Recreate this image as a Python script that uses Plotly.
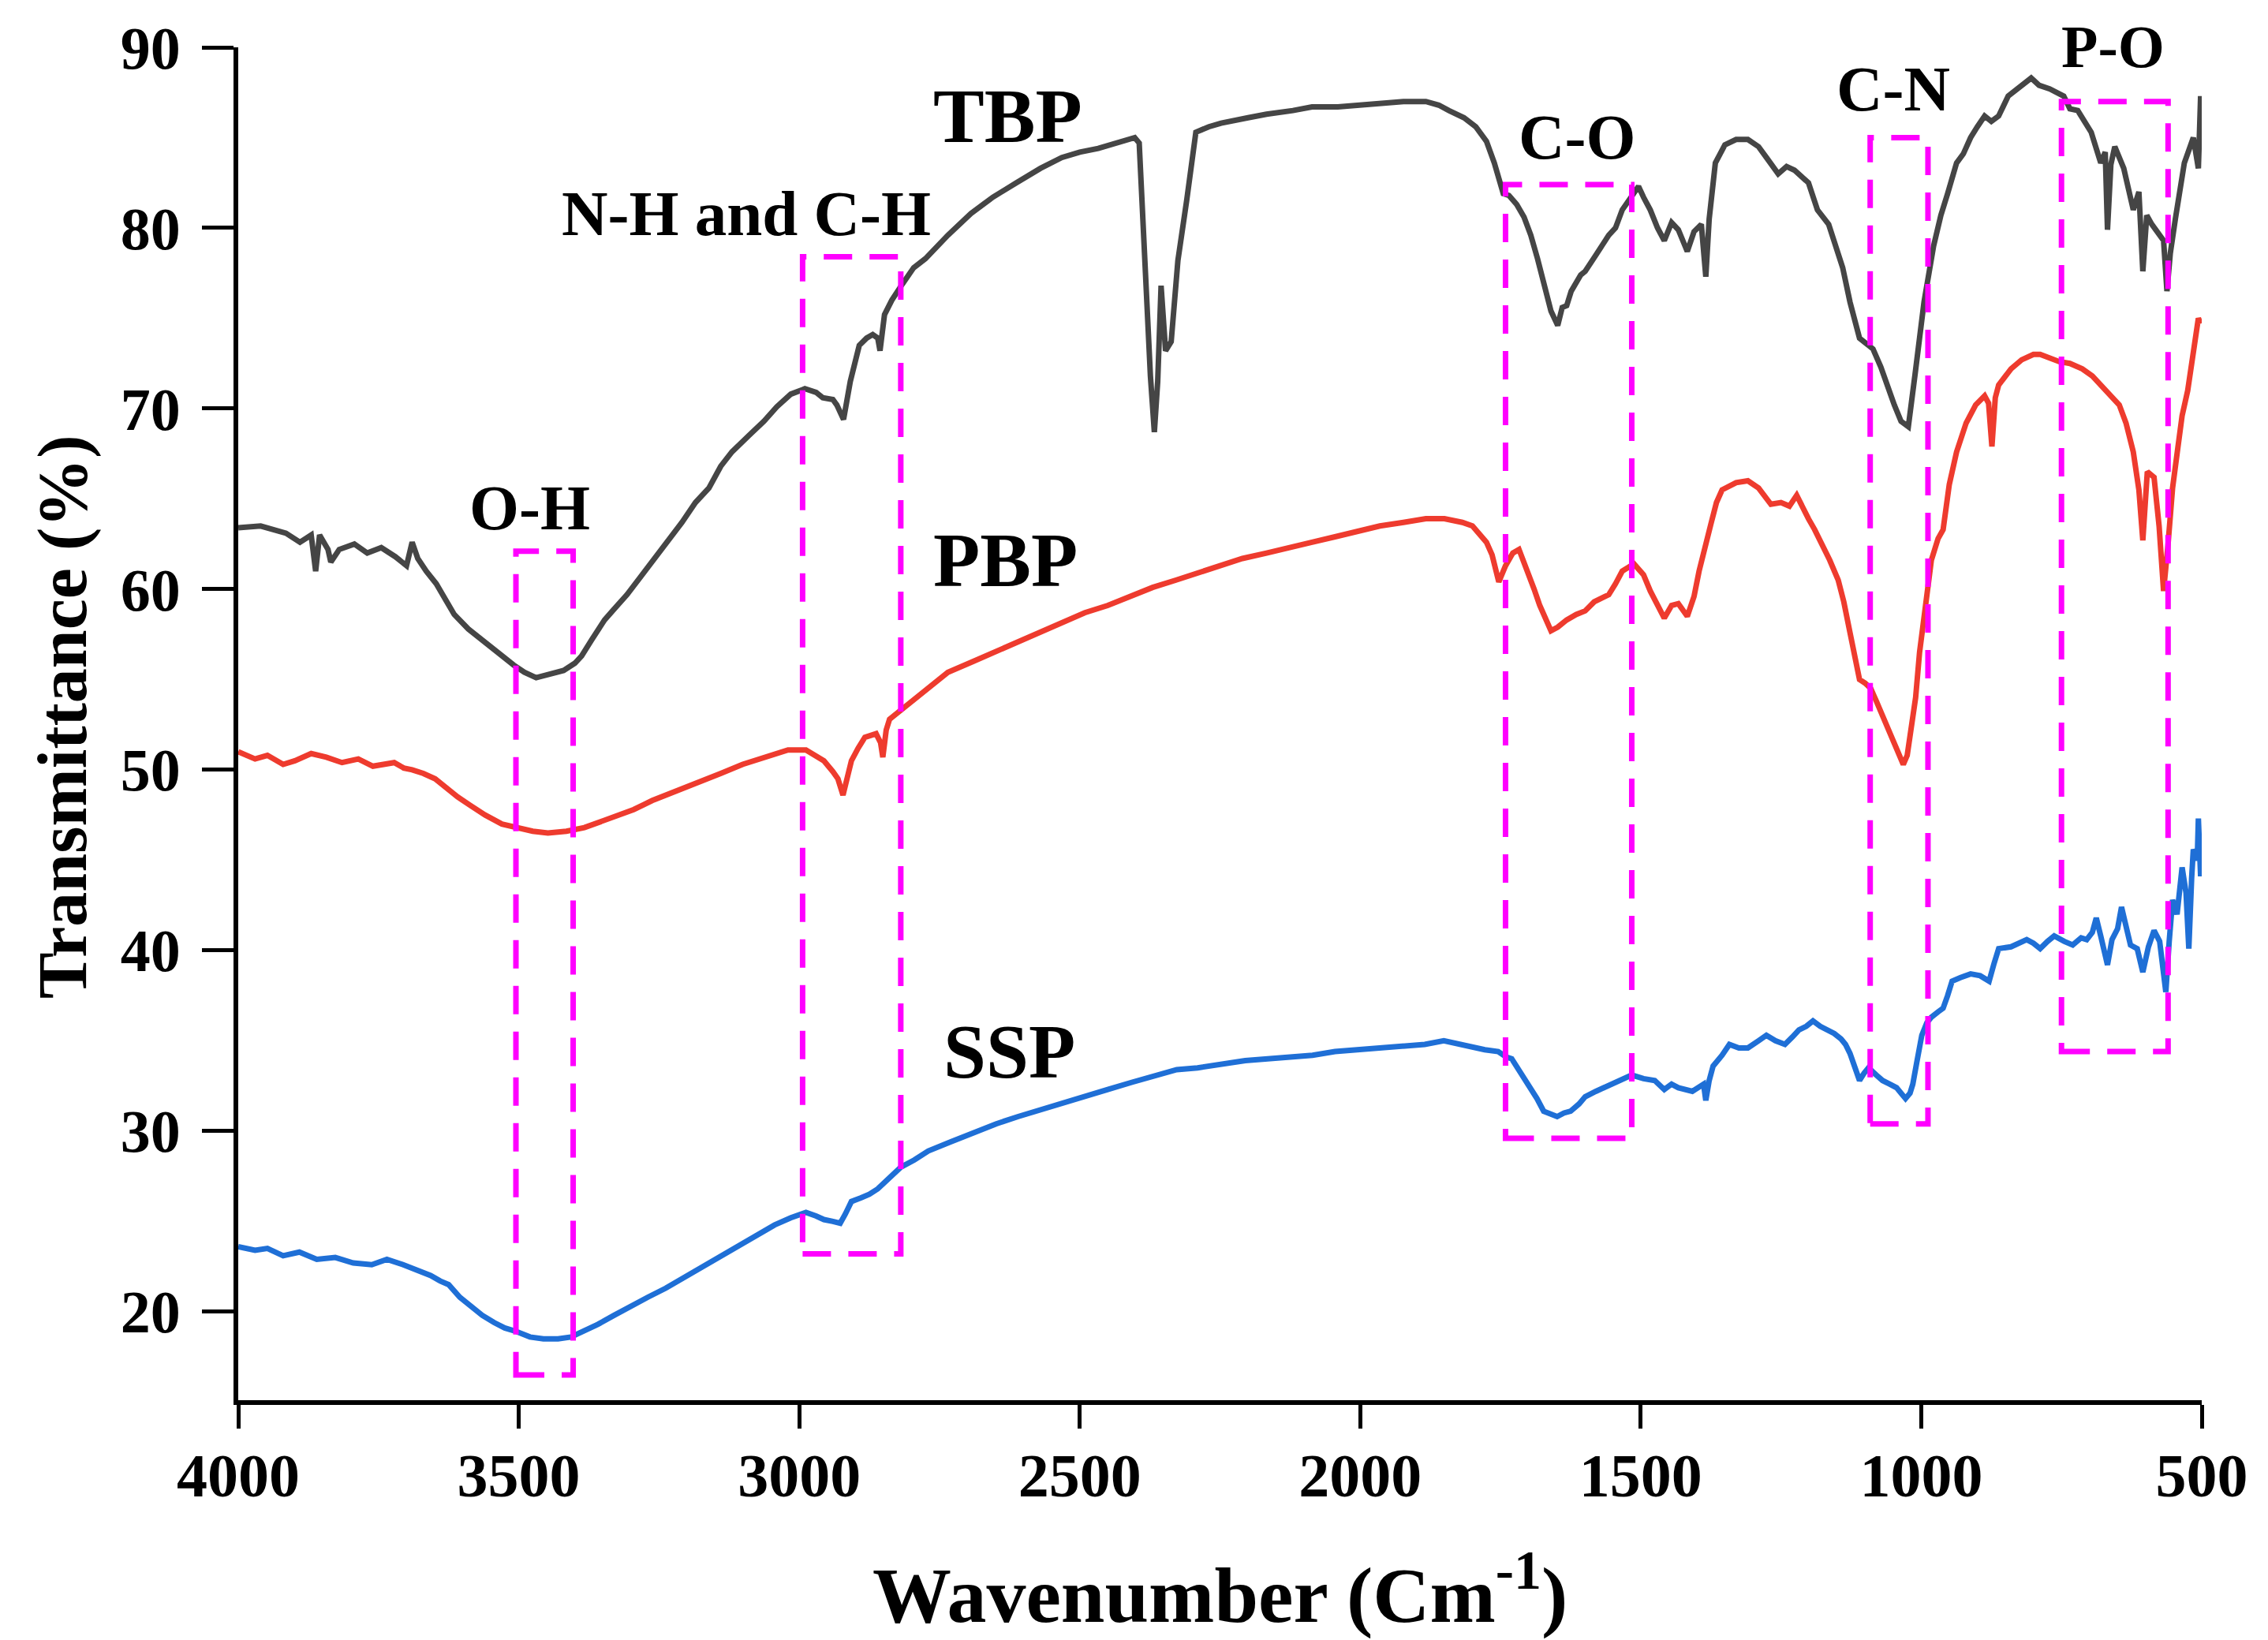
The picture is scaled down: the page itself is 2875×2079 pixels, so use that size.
import plotly.graph_objects as go

# ---------------- data ----------------
wn_tbp = [4000,3960,3915,3890,3870,3862,3855,3840,3835,3820,3793,3770,3745,3720,3700,3690,3680,3665,3647,3630,3615,3590,3566,3540,3509,3490,3469,3445,3420,3400,3388,3370,3347,3330,3307,3280,3258,3230,3209,3185,3161,3140,3120,3090,3063,3040,3015,2990,2970,2958,2940,2933,2921,2909,2893,2880,2869,2860,2856,2848,2835,2816,2796,2775,2735,2694,2655,2613,2570,2532,2500,2467,2430,2402,2394,2386,2380,2374,2367,2361,2355,2351,2347,2337,2325,2309,2293,2270,2248,2200,2167,2120,2086,2040,2005,1960,1923,1883,1860,1842,1815,1794,1775,1761,1745,1735,1721,1708,1696,1684,1672,1660,1648,1640,1632,1624,1607,1599,1580,1557,1545,1533,1515,1504,1495,1483,1470,1458,1445,1433,1417,1405,1392,1384,1378,1367,1350,1330,1309,1290,1276,1255,1240,1226,1201,1185,1165,1152,1140,1127,1110,1098,1086,1072,1061,1048,1036,1023,1011,995,978,965,953,937,925,912,900,887,875,862,845,825,804,790,771,746,735,721,697,680,672,668,662,655,639,622,612,605,598,589,568,562,556,547,531,515,506,502]
t_tbp = [63.4,63.5,63.1,62.6,63.0,61.0,63.0,62.2,61.5,62.2,62.5,62.0,62.3,61.8,61.3,62.6,61.7,61.0,60.3,59.4,58.6,57.8,57.2,56.5,55.8,55.4,55.1,55.3,55.5,55.9,56.3,57.2,58.3,58.9,59.7,60.8,61.7,62.8,63.7,64.8,65.6,66.8,67.6,68.5,69.3,70.1,70.8,71.1,70.9,70.6,70.5,70.2,69.4,71.5,73.5,73.9,74.1,73.9,73.2,75.2,76.0,76.9,77.8,78.3,79.6,80.8,81.7,82.5,83.3,83.9,84.2,84.4,84.7,85.0,84.7,79.1,75.0,71.8,68.7,71.5,76.8,74.5,73.2,73.7,78.2,81.6,85.3,85.6,85.8,86.1,86.3,86.5,86.7,86.7,86.8,86.9,87.0,87.0,86.8,86.5,86.1,85.6,84.8,83.6,81.9,81.8,81.3,80.6,79.6,78.3,76.8,75.4,74.6,75.6,75.7,76.5,77.4,77.6,78.5,79.6,80.0,81.0,81.8,82.3,81.7,81.0,80.0,79.3,80.3,79.9,78.7,79.8,80.2,77.3,80.5,83.6,84.6,84.9,84.9,84.5,83.9,83.0,83.4,83.2,82.5,81.0,80.2,79.0,77.8,75.9,73.9,73.6,73.3,72.3,71.3,70.2,69.3,69.0,71.9,75.9,79.0,80.7,81.9,83.6,84.1,85.0,85.6,86.2,85.9,86.2,87.3,87.8,88.3,87.9,87.7,87.3,86.6,86.5,85.3,83.6,84.2,79.9,83.5,84.5,83.3,81.0,82.0,77.6,80.7,80.2,79.3,76.5,78.6,80.5,83.6,85.0,83.3,87.3]

wn_pbp = [4000,3970,3948,3920,3899,3870,3843,3815,3786,3760,3722,3705,3690,3670,3649,3630,3609,3585,3560,3530,3504,3475,3448,3415,3383,3355,3327,3295,3262,3220,3181,3140,3101,3060,3020,2988,2970,2956,2940,2931,2922,2915,2907,2895,2883,2863,2855,2851,2845,2839,2819,2790,2760,2735,2690,2653,2610,2572,2530,2491,2450,2410,2370,2329,2290,2248,2210,2167,2130,2086,2045,2005,1965,1923,1883,1850,1818,1800,1786,1775,1765,1753,1741,1728,1717,1708,1700,1690,1680,1670,1660,1648,1632,1615,1599,1583,1557,1545,1533,1512,1495,1483,1470,1458,1445,1433,1417,1405,1396,1385,1375,1365,1355,1330,1309,1290,1268,1250,1235,1222,1212,1201,1190,1177,1163,1148,1138,1127,1118,1110,1100,1090,1080,1069,1058,1048,1040,1032,1025,1019,1010,1003,992,982,970,961,950,937,920,903,887,880,874,868,862,840,821,800,788,770,754,735,713,695,680,665,647,635,622,612,605,597,585,576,568,560,552,544,535,525,515,506,502]
t_pbp = [51.0,50.6,50.8,50.3,50.5,50.9,50.7,50.4,50.6,50.2,50.4,50.1,50.0,49.8,49.5,49.0,48.5,48.0,47.5,47.0,46.8,46.6,46.5,46.6,46.8,47.1,47.4,47.8,48.3,48.8,49.3,49.8,50.3,50.7,51.1,51.1,50.8,50.5,49.9,49.5,48.6,49.6,50.5,51.2,51.8,52.0,51.5,50.7,52.2,52.8,53.3,54.0,54.8,55.4,56.0,56.5,57.1,57.6,58.1,58.7,59.1,59.6,60.1,60.5,60.9,61.3,61.7,62.0,62.3,62.6,62.9,63.2,63.5,63.7,63.9,63.9,63.7,63.5,63.0,62.6,61.9,60.4,61.3,62.0,62.2,61.5,60.8,60.0,59.1,58.4,57.7,57.9,58.3,58.6,58.8,59.3,59.7,60.3,61.0,61.4,60.8,59.9,59.1,58.4,59.1,59.2,58.5,59.6,61.0,62.5,63.6,64.8,65.5,65.9,66.0,65.6,64.7,64.8,64.6,65.2,64.5,63.9,63.3,62.5,61.6,60.5,59.3,57.6,56.2,55.0,54.8,54.5,53.8,53.0,52.2,51.3,50.8,50.3,50.8,51.9,54.0,56.5,59.2,61.6,62.8,63.3,65.8,67.6,69.2,70.2,70.7,70.3,67.9,70.6,71.3,72.2,72.7,73.0,73.0,72.8,72.6,72.5,72.2,71.8,71.3,70.8,70.2,69.2,67.6,65.5,62.7,66.5,66.2,63.5,59.9,62.5,65.6,67.5,69.6,71.0,73.0,75.0,74.7]

wn_ssp = [4000,3970,3948,3920,3891,3860,3827,3795,3762,3735,3706,3680,3657,3640,3625,3605,3585,3565,3544,3525,3504,3480,3456,3430,3407,3385,3359,3330,3302,3270,3238,3205,3173,3140,3109,3075,3044,3015,2988,2970,2956,2940,2927,2918,2907,2890,2875,2860,2843,2819,2795,2770,2730,2690,2649,2610,2569,2530,2488,2450,2407,2370,2327,2290,2246,2205,2165,2125,2085,2045,2004,1965,1923,1885,1851,1825,1802,1778,1754,1740,1730,1715,1698,1685,1673,1660,1649,1637,1625,1610,1599,1580,1557,1535,1516,1495,1475,1458,1445,1433,1408,1388,1384,1378,1371,1355,1342,1325,1309,1290,1276,1260,1243,1230,1218,1205,1193,1180,1168,1155,1143,1135,1127,1118,1110,1102,1094,1080,1069,1056,1044,1036,1028,1020,1015,1008,999,990,982,970,961,953,945,930,912,895,879,870,862,840,812,800,788,775,763,745,730,715,705,695,688,680,668,660,650,643,635,627,615,605,595,585,575,564,558,552,544,535,528,523,518,515,508,506,502]
t_ssp = [23.6,23.4,23.5,23.1,23.3,22.9,23.0,22.7,22.6,22.9,22.6,22.3,22.0,21.7,21.5,20.8,20.3,19.8,19.4,19.1,18.9,18.6,18.5,18.5,18.6,18.9,19.3,19.8,20.3,20.8,21.3,21.9,22.5,23.1,23.6,24.2,24.8,25.2,25.5,25.3,25.1,25.0,24.9,25.4,26.1,26.3,26.5,26.8,27.3,28.0,28.4,28.9,29.4,29.9,30.4,30.8,31.2,31.6,32.0,32.3,32.7,33.0,33.4,33.5,33.7,33.9,34.0,34.1,34.2,34.4,34.5,34.6,34.7,34.8,35.0,34.8,34.7,34.5,34.4,34.1,34.0,33.3,32.5,31.8,31.1,30.9,30.8,31.0,31.1,31.5,31.9,32.2,32.5,32.8,33.1,32.9,32.8,32.3,32.6,32.4,32.2,32.6,31.7,32.8,33.6,34.2,34.8,34.6,34.6,35.0,35.3,35.0,34.8,35.2,35.6,35.8,36.1,35.8,35.6,35.4,35.1,34.8,34.3,33.4,32.8,33.2,33.5,33.1,32.8,32.6,32.4,32.1,31.8,32.1,32.6,33.8,35.3,36.0,36.3,36.6,36.8,37.5,38.3,38.5,38.7,38.6,38.3,39.3,40.1,40.2,40.6,40.4,40.1,40.5,40.8,40.5,40.3,40.7,40.6,41.0,41.8,40.8,39.2,40.6,41.2,42.4,41.3,40.3,40.1,38.8,40.2,41.1,40.5,37.7,40.5,42.8,42.0,44.6,43.2,40.1,44.0,45.6,45.0,47.3,44.1]

series_names = ["TBP", "PBP", "SSP"]
series_colors = ["#454545", "#ee3b2e", "#1f6fd6"]

# dashed boxes marking the bands
box_x0 = [3505, 2994, 1741, 1091, 750]
box_x1 = [3403, 2819, 1516, 988, 560]
box_y0 = [16.5, 23.2, 29.6, 30.4, 34.4]
box_y1 = [62.1, 78.4, 82.4, 85.0, 87.0]

# band labels (P-O sits just above the frame, placed in paper units)
band_text = ["O-H", "N-H and C-H", "C-O", "C-N"]
band_x = [3481, 3094, 1614, 1050]
band_y = [64.5, 80.8, 85.0, 87.7]
top_text = "P-O"
top_x = 658
top_y_paper = 1.026

# sample labels
sample_x = [2628, 2633, 2625]
sample_y = [86.2, 61.6, 34.4]

x_ticks = [4000, 3500, 3000, 2500, 2000, 1500, 1000, 500]
y_ticks = [20, 30, 40, 50, 60, 70, 80, 90]

FONT = "Liberation Serif"

fig = go.Figure()
for name, wn, t, c in zip(series_names, [wn_tbp, wn_pbp, wn_ssp],
                          [t_tbp, t_pbp, t_ssp], series_colors):
    fig.add_trace(go.Scatter(x=wn, y=t, mode="lines", name=name,
                             line=dict(color=c, width=7), showlegend=False))

for x0, x1, y0, y1 in zip(box_x0, box_x1, box_y0, box_y1):
    fig.add_shape(type="rect", xref="x", yref="y", x0=x0, x1=x1, y0=y0, y1=y1,
                  line=dict(color="#ff00ff", width=7, dash="36px,22px"),
                  fillcolor="rgba(0,0,0,0)", layer="above")

for txt, x, y in zip(band_text, band_x, band_y):
    fig.add_annotation(x=x, y=y, xref="x", yref="y", text=txt, showarrow=False,
                       xanchor="center", yanchor="middle",
                       font=dict(family=FONT, size=81, color="black", weight="bold"))
fig.add_annotation(x=top_x, y=top_y_paper, xref="x", yref="paper", text=top_text,
                   showarrow=False, xanchor="center", yanchor="top",
                   font=dict(family=FONT, size=76, color="black", weight="bold"))

for txt, x, y in zip(series_names, sample_x, sample_y):
    fig.add_annotation(x=x, y=y, xref="x", yref="y", text=txt, showarrow=False,
                       xanchor="center", yanchor="middle",
                       font=dict(family=FONT, size=97, color="black", weight="bold"))

# axis titles
fig.add_annotation(x=0.5, y=-0.14, xref="paper", yref="paper",
                   text="Wavenumber (Cm<sup>-1</sup>)", showarrow=False,
                   xanchor="center", yanchor="middle",
                   font=dict(family=FONT, size=100, color="black", weight="bold"))
fig.add_annotation(x=-0.0892, y=0.505, xref="paper", yref="paper",
                   text="Transmittance (%)", showarrow=False, textangle=-90,
                   xanchor="center", yanchor="middle",
                   font=dict(family=FONT, size=88, color="black", weight="bold"))

fig.update_xaxes(range=[4000, 500], tickvals=x_ticks, ticktext=[str(v) for v in x_ticks],
                 showgrid=False, zeroline=False, showline=True, linecolor="black",
                 linewidth=6, ticks="outside", ticklen=30, tickwidth=5, tickcolor="black",
                 ticklabelstandoff=-8,
                 tickfont=dict(family=FONT, size=78, color="black", weight="bold"))
fig.update_yaxes(range=[15.1, 90], tickvals=y_ticks, ticktext=[str(v) for v in y_ticks],
                 showgrid=False, zeroline=False, showline=True, linecolor="black",
                 linewidth=6, ticks="outside", ticklen=40, tickwidth=5, tickcolor="black",
                 ticklabelstandoff=12,
                 tickfont=dict(family=FONT, size=76, color="black", weight="bold"))

fig.update_layout(width=2867, height=2071, autosize=False,
                  margin=dict(l=294, r=84, t=52, b=304),
                  plot_bgcolor="white", paper_bgcolor="white")

fig.write_html("out.html")
